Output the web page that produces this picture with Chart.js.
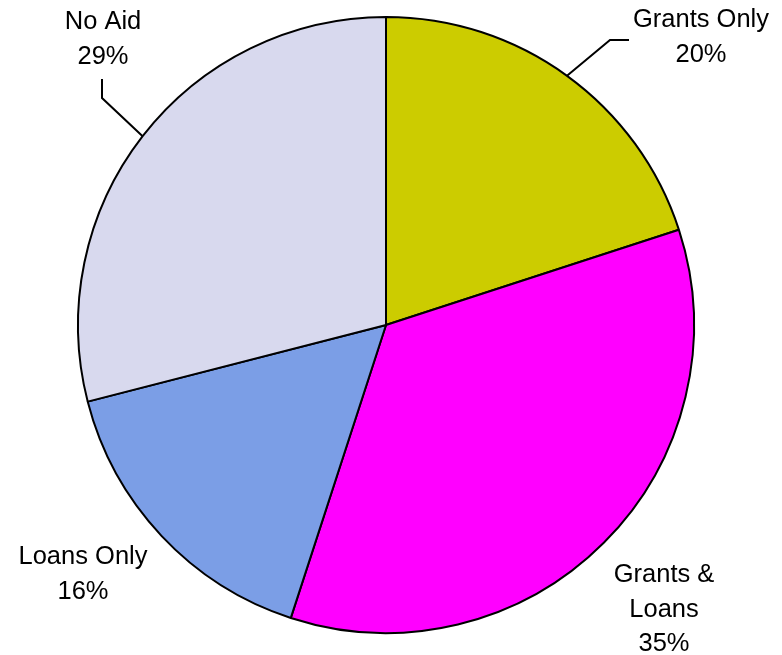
<!DOCTYPE html>
<html>
<head>
<meta charset="utf-8">
<script src="https://cdn.jsdelivr.net/npm/chart.js@4"></script>
<style>
  html, body { margin: 0; padding: 0; background: #fff; }
  canvas { display: block; }
</style>
</head>
<body>
<canvas id="aidChart" width="782" height="655"></canvas>
<script>
const categories = ['Grants Only', 'Grants & Loans', 'Loans Only', 'No Aid'];
const shares = [20, 35, 16, 29];
const sliceColors = ['#CCCC00', '#FF00FF', '#7B9EE6', '#D8D9EE'];

// text lines for each slice label, and where they sit
const labelLines = [
  ['Grants Only', '20%'],
  ['Grants &', 'Loans', '35%'],
  ['Loans Only', '16%'],
  ['No Aid', '29%'],
];
const labelSpots = [
  { x: 701, y: 20, leader: [[610, 40], [629, 40]] },
  { x: 664, y: 575 },
  { x: 83, y: 557 },
  { x: 103, y: 22, leader: [[102, 98], [102, 79]] },
];

const sliceLabels = {
  id: 'sliceLabels',
  afterDraw(chart) {
    const ctx = chart.ctx;
    const arcs = chart.getDatasetMeta(0).data;
    ctx.save();
    ctx.fillStyle = '#000';
    ctx.strokeStyle = '#000';
    ctx.lineWidth = 2;
    ctx.font = '25.5px "Liberation Sans", Arial, sans-serif';
    ctx.textAlign = 'center';
    ctx.textBaseline = 'middle';
    arcs.forEach((arc, i) => {
      const spot = labelSpots[i];
      labelLines[i].forEach((line, j) => {
        ctx.fillText(line, spot.x, spot.y + j * 34.5);
      });
      if (spot.leader) {
        const p = arc.getProps(['x', 'y', 'startAngle', 'endAngle', 'outerRadius'], true);
        const mid = (p.startAngle + p.endAngle) / 2;
        ctx.beginPath();
        ctx.moveTo(p.x + Math.cos(mid) * p.outerRadius, p.y + Math.sin(mid) * p.outerRadius);
        spot.leader.forEach(([lx, ly]) => ctx.lineTo(lx, ly));
        ctx.stroke();
      }
    });
    ctx.restore();
  }
};

new Chart(document.getElementById('aidChart'), {
  type: 'pie',
  data: {
    labels: categories,
    datasets: [{
      data: shares,
      backgroundColor: sliceColors,
      borderColor: '#000',
      borderWidth: 2,
    }],
  },
  options: {
    responsive: false,
    animation: false,
    layout: { padding: { top: 16, bottom: 21, left: 77, right: 87 } },
    plugins: {
      legend: { display: false },
      tooltip: { enabled: false },
    },
  },
  plugins: [sliceLabels],
});
</script>
</body>
</html>
